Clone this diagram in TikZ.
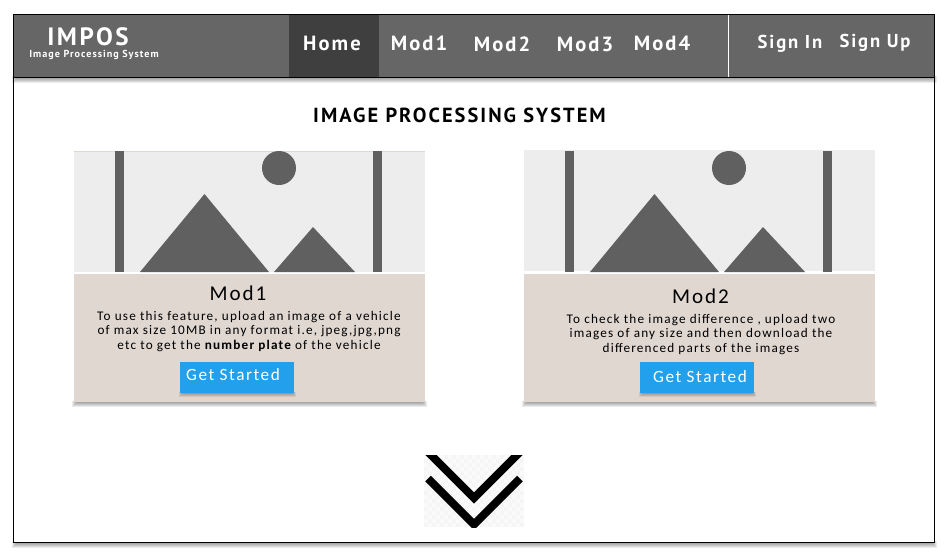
\documentclass[tikz,border=0pt]{standalone}
\usepackage{fontspec}
\setmainfont{PT Sans}
\newfontfamily\navfont[LetterSpace=10]{PT Sans}
\newfontfamily\bodyfont[LetterSpace=9]{Carlito}
\definecolor{navgrey}{HTML}{666666}
\definecolor{homegrey}{HTML}{3F3F3F}
\definecolor{picgrey}{HTML}{EDEDED}
\definecolor{shapegrey}{HTML}{606060}
\definecolor{cardtan}{HTML}{E0D7D1}
\definecolor{btnblue}{HTML}{22A0EC}
\tikzset{
	navlink/.style={text=white,inner sep=0pt,font=\navfont\bfseries\fontsize{15.4}{18}\selectfont},
	signlink/.style={navlink,font=\navfont\bfseries\fontsize{14}{17}\selectfont},
	cardtext/.style={align=center,inner sep=0pt,font=\bodyfont\fontsize{9.9}{10.6}\selectfont},
	cardhead/.style={inner sep=0pt,font=\bodyfont\fontsize{15.8}{18}\selectfont},
	button/.style={fill=btnblue,inner sep=0pt,anchor=north west,minimum width=85.5,minimum height=23.25},
	btnlabel/.style={text=white,inner sep=0pt,font=\bodyfont\fontsize{12.9}{14}\selectfont}
}
\newcommand{\softbox}[5]{% soft shadow under a box: x1 y1 x2 y2 reach
	\foreach \s in {1,...,#5}
		\fill[black,opacity=0.08] (#1+\s-#5/2,#2-1) rectangle (#3-\s+#5/2,#4+#5-\s);
}
\newcommand{\cardpic}[1]{% picture placeholder, x offset
	\begin{scope}[xshift=#1*0.75pt]
		\fill[shapegrey] (115,151) rectangle (124,272);
		\fill[shapegrey] (373,151) rectangle (382,272);
		\fill[shapegrey] (279,168) circle [radius=17];
		\fill[shapegrey] (140,272) -- (204.5,194) -- (269,272) -- cycle;
		\fill[shapegrey] (274,272) -- (313,227) -- (355,272) -- cycle;
	\end{scope}
}
\begin{document}
\begin{tikzpicture}[x=0.75pt,y=-0.75pt]
	\useasboundingbox (0,0) rectangle (947,558);
	\fill[white] (0,0) rectangle (947,558);

	% page shadow and frame
	\softbox{14}{542}{934}{542}{7}
	\fill[white] (14,15) rectangle (934,542);

	% top bar
	\softbox{14}{77}{934}{77}{7}
	\fill[navgrey] (14,15) rectangle (934,77);
	\fill[homegrey] (289,15) rectangle (379,77);
	\draw[white,line width=0.75pt] (728.5,15) -- (728.5,77);
	\draw[black,line width=0.75pt] (13.5,77) -- (934,77);
	\draw[black,line width=0.75pt] (13.5,14.5) rectangle (934,542);

	\node[navlink,font=\navfont\bfseries\fontsize{18.8}{20}\selectfont] (logo) at (88,37) {IMPOS};
	\node[navlink,font=\navfont\bfseries\fontsize{7.6}{9}\selectfont] (logosub) at (94,54.5) {Image Processing System};
	\node[navlink] (home) at (332,43.5) {Home};
	\node[navlink] (modone) at (419,43.5) {Mod1};
	\node[navlink] (modtwo) at (502,44.5) {Mod2};
	\node[navlink] (modthree) at (585,44.5) {Mod3};
	\node[navlink] (modfour) at (662,43.5) {Mod4};
	\node[signlink] (signin) at (790,43.5) {Sign In};
	\node[signlink] (signup) at (875,42.5) {Sign Up};

	\node[inner sep=0pt,font=\navfont\bfseries\fontsize{15.3}{18}\selectfont] (title) at (459.5,115) {IMAGE PROCESSING SYSTEM};

	% left card
	\softbox{74}{402}{425}{402}{6}
	\fill[picgrey] (74,151) rectangle (425,272);
	\draw[cardtan,line width=0.5pt] (74,151) -- (425,151);
	\fill[cardtan] (74,274) rectangle (425,402);
	\cardpic{0}
	\node[cardhead] (headone) at (238,293) {Mod1};
	\node[cardtext] (textone) at (249,331.5) {To use this feature, upload an image of a vehicle\\
		of max size 10MB in any format i.e, jpeg,jpg,png\\
		etc to get the {\bfseries number plate} of the vehicle};
	\softbox{180}{393}{294}{393}{5}
	\node[button] (btnone) at (180,362) {};
	\node[btnlabel] (lblone) at (233,375) {Get Started};

	% right card
	\softbox{524}{402}{875}{402}{6}
	\fill[picgrey] (524,150) rectangle (875,271);
	\fill[cardtan] (524,274) rectangle (875,402);
	\cardpic{450}
	\node[cardhead] (headtwo) at (700.5,296) {Mod2};
	\node[cardtext] (texttwo) at (701,334.5) {To check the image difference , upload two\\
		images of any size and then download the\\
		differenced parts of the images};
	\softbox{640}{393}{754}{393}{5}
	\node[button] (btntwo) at (640,362) {};
	\node[btnlabel] (lbltwo) at (700,377) {Get Started};

	% scroll arrow
	\begin{scope}
		\clip (424,455) rectangle (524,527);
		\fill[white!98!black] (424,455) rectangle (524,527);
		\foreach \i in {0,...,24} {
			\foreach \j in {0,...,17} {
				\ifodd\numexpr\i+\j\relax
					\fill[white!96!black] (424+4*\i,455+4*\j) rectangle +(4,4);
				\fi
			}
		}
		\draw[black,line width=6pt] (420,444) -- (474,498) -- (528,444);
		\draw[black,line width=6pt] (428,478.5) -- (474,524.5) -- (520,478.5);
	\end{scope}
\end{tikzpicture}
\end{document}
